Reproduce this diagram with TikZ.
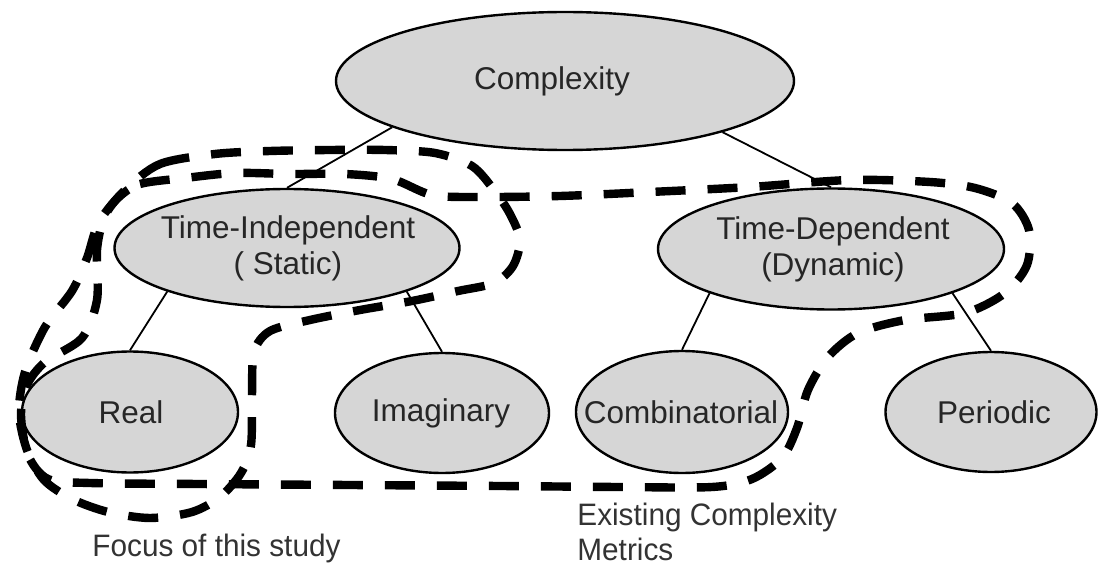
\documentclass[tikz,border=0pt]{standalone}
\usepackage{fontspec}
\setmainfont{Liberation Sans}
\newfontfamily\notefont[FakeStretch=0.96]{Liberation Sans}
\usetikzlibrary{shapes.geometric}
\begin{document}
\begin{tikzpicture}[x=0.5pt,y=-0.5pt,
  bubble/.style={ellipse, draw=black, line width=1.2pt, fill=black!16, inner sep=0pt},
  bubbletext/.style={font=\fontsize{15.75pt}{18pt}\selectfont, text=black!85, align=center, inner sep=0pt},
  branch/.style={draw=black, line width=0.9pt},
  group/.style={draw=black, line width=4.2pt, dash pattern=on 15pt off 11pt, line join=round},
  note/.style={font=\notefont\fontsize{15.5pt}{19pt}\selectfont, text=black!80, anchor=base west, inner sep=0pt}]

\useasboundingbox (0,0) rectangle (1099,567);
\fill[white] (0,0) rectangle (1099,567);

% ellipses of the hierarchy
\node[bubble, minimum width=229pt, minimum height=69pt]   (c)    at (565,81)  {};
\node[bubble, minimum width=172.5pt, minimum height=59pt] (ti)   at (287,248) {};
\node[bubble, minimum width=173pt, minimum height=60.5pt] (td)   at (831,249) {};
\node[bubble, minimum width=108pt, minimum height=60.5pt] (real) at (130,412) {};
\node[bubble, minimum width=107pt, minimum height=60pt]   (imag) at (442,413) {};
\node[bubble, minimum width=106pt, minimum height=61pt]   (comb) at (682,412) {};
\node[bubble, minimum width=105.5pt, minimum height=60pt] (per)  at (991,412) {};

% their captions
\node[bubbletext] (c-t)    at (552,81)  {Complexity};
\node[bubbletext] (ti-t)   at (288,248) {Time-Independent\\( Static)};
\node[bubbletext] (td-t)   at (833,249) {Time-Dependent\\(Dynamic)};
\node[bubbletext] (real-t) at (131,412) {Real};
\node[bubbletext] (imag-t) at (441,413) {Imaginary};
\node[bubbletext] (comb-t) at (681,412) {Combinatorial};
\node[bubbletext] (per-t)  at (994,412) {Periodic};

% branches
\draw[branch] (c.195)  -- (ti.north);
\draw[branch] (c.342)  -- (td.north);
\draw[branch] (ti.200) -- (real.north);
\draw[branch] (ti.340) -- (imag.north);
\draw[branch] (td.200) -- (comb.north);
\draw[branch] (td.340) -- (per.north);

% focus group: time-independent and real
\draw[group] plot[smooth cycle, tension=0.5] coordinates {
  (125,190) (160,164) (215,154) (270,151) (330,150) (385,150) (435,153)
  (472,166) (494,190) (510,214) (520,240) (513,266) (494,283) (458,291)
  (412,301) (360,310) (310,320) (270,331) (254,352) (252,395) (251,445)
  (241,473) (220,497) (192,512) (150,518) (108,512) (72,499) (44,480)
  (27,450) (19,412) (25,372) (45,327) (72,291) (87,258) (99,222)};

% group of existing metrics
\draw[group] plot[smooth cycle, tension=0.5] coordinates {
  (118,198) (140,184) (185,178) (235,173) (290,174) (345,174) (392,179)
  (432,195) (480,197) (560,196) (650,192) (750,187) (850,180) (930,182)
  (975,188) (1012,203) (1029,230) (1027,265) (1005,293) (965,313)
  (905,320) (858,333) (828,357) (808,390) (797,428) (782,458) (752,479)
  (712,487) (620,487) (500,486) (350,485) (200,484) (90,483) (48,479)
  (28,455) (21,415) (27,385) (45,362) (82,338) (97,300) (97,250) (104,218)};

% group labels
\node[note] (focus)  at (92,556)  {Focus of this study};
\node[note] (exist1) at (577,525) {Existing Complexity};
\node[note] (exist2) at (577,560) {Metrics};
\end{tikzpicture}
\end{document}
